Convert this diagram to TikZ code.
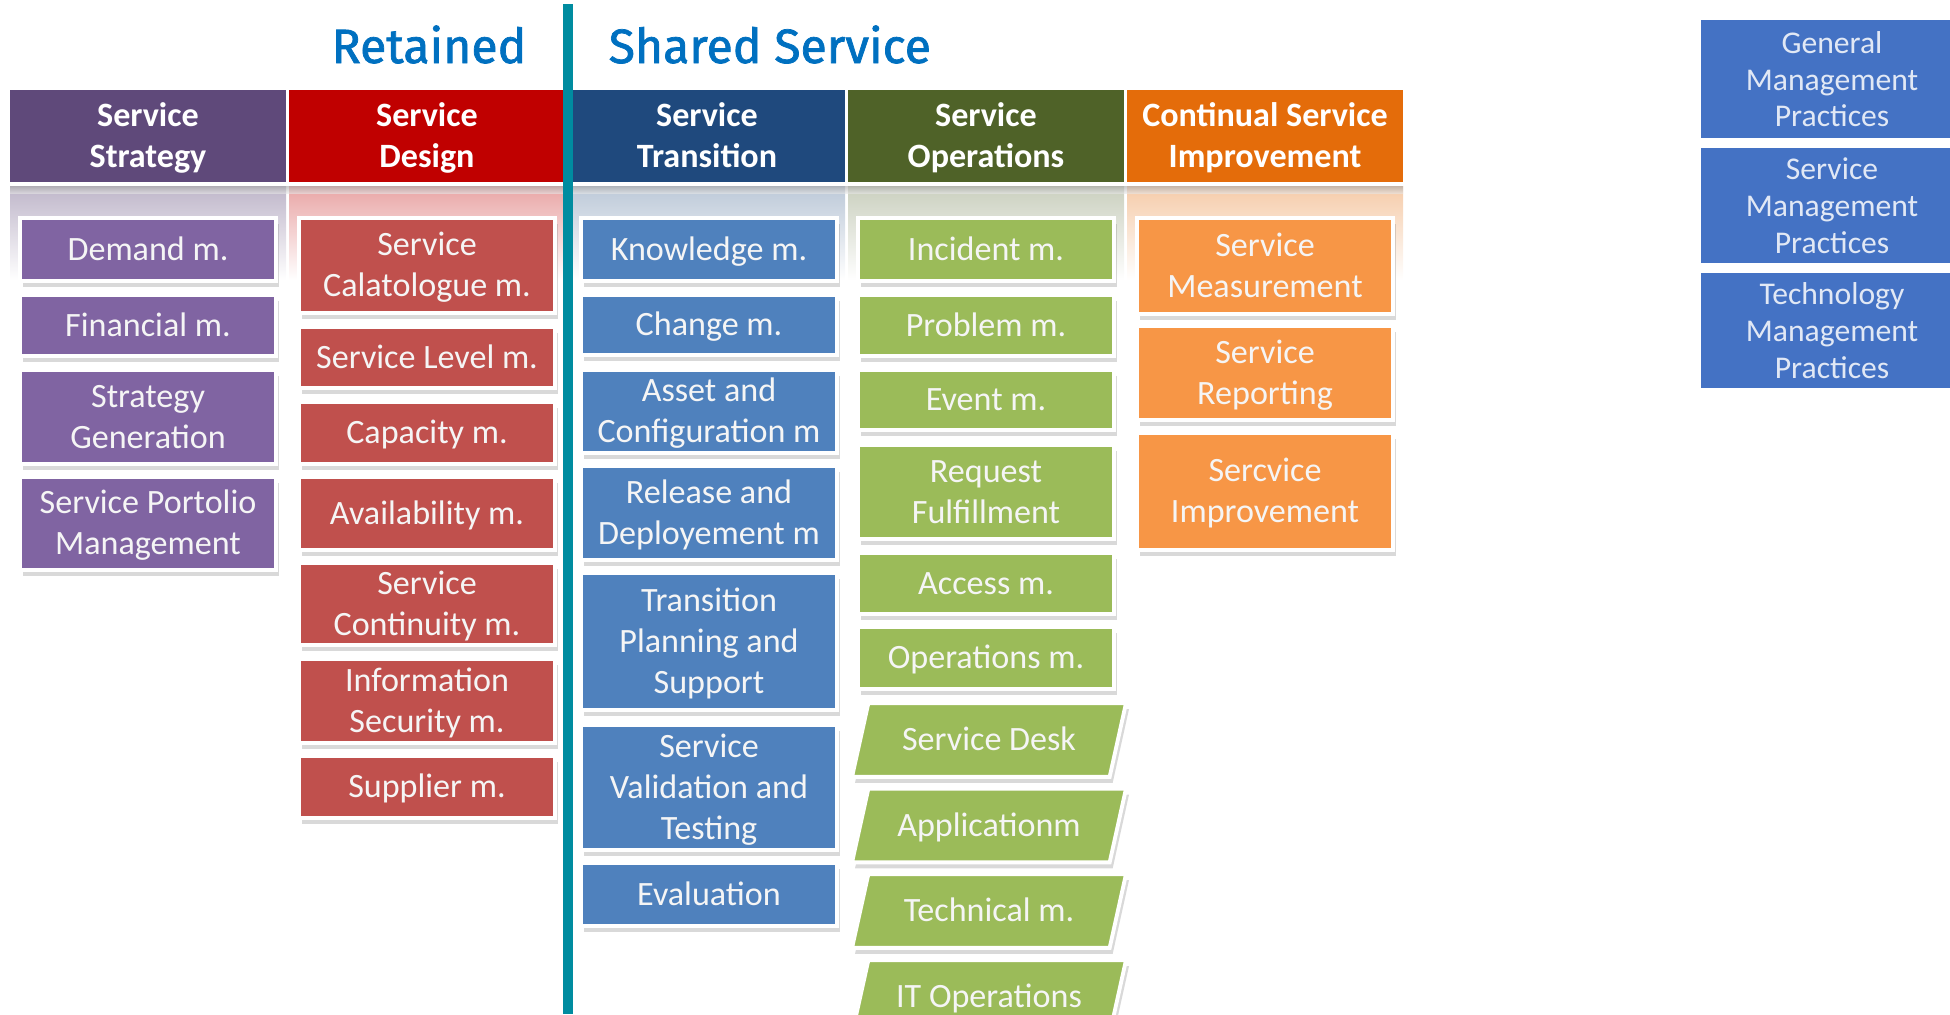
\documentclass[tikz,border=0pt]{standalone}
\usepackage{fontspec}
\setmainfont{Carlito}
\newfontfamily\titlefont{Fira Sans}[FakeBold=1.5]
\usetikzlibrary{shapes.geometric,shadows}

\definecolor{stratdark}{RGB}{95,73,122}
\definecolor{stratbox}{RGB}{128,100,162}
\definecolor{desdark}{RGB}{192,0,0}
\definecolor{desbox}{RGB}{192,80,77}
\definecolor{trandark}{RGB}{31,73,125}
\definecolor{tranbox}{RGB}{79,129,189}
\definecolor{opsdark}{RGB}{79,98,40}
\definecolor{opsbox}{RGB}{155,187,89}
\definecolor{csidark}{RGB}{228,108,10}
\definecolor{csibox}{RGB}{247,150,70}
\definecolor{practiceblue}{RGB}{68,114,196}
\definecolor{titleblue}{RGB}{0,112,192}
\definecolor{divider}{RGB}{0,140,160}

% same height and depth for every one-line box text
\newcommand{\boxstrut}{\rule[-2.7pt]{0pt}{11.6pt}}

\begin{document}
\begin{tikzpicture}[x=0.1mm, y=-0.1mm,
    hdr/.style={rectangle, minimum width=27.6mm, minimum height=9.2mm, inner sep=0pt,
        text=white, align=center, font=\bfseries\fontsize{9.7}{11.7}\selectfont,
        text height=20.6pt, text depth=2.7pt},
    item/.style={rectangle, draw=white, line width=1.1pt, minimum width=25.6mm, inner sep=0pt,
        text=white!96!black, align=center, font=\fontsize{9.7}{11.7}\selectfont,
        execute at begin node=\boxstrut, execute at end node=\boxstrut,
        drop shadow={shadow xshift=0.3mm, shadow yshift=-0.6mm, opacity=0.3}},
    twoline/.style={text height=20.6pt, text depth=2.7pt},
    threeline/.style={text height=32.3pt, text depth=2.7pt},
    para/.style={item, trapezium, trapezium left angle=77.5, trapezium right angle=102.5,
        trapezium stretches body, inner ysep=1.65mm, minimum width=27.4mm},
    pbox/.style={rectangle, fill=practiceblue, minimum width=26.2mm, inner sep=0pt,
        text={rgb,255:red,225;green,232;blue,245}, align=center, font=\fontsize{9}{10.5}\selectfont,
        text height=29.8pt, text depth=2.5pt},
    title/.style={anchor=base west, inner sep=0pt, text=titleblue, font=\titlefont\fontsize{13.7}{16}\selectfont}]

    \useasboundingbox (0,0) rectangle (1950,1014);
    \clip (0,0) rectangle (1950,1014);

    % tinted strip under each header
    \shade [top color=stratdark!40!white, bottom color=white] (10,186) rectangle (286,280);
    \shade [top color=desdark!35!white, bottom color=white] (289,186) rectangle (565,280);
    \shade [top color=trandark!30!white, bottom color=white] (569,186) rectangle (845,280);
    \shade [top color=opsdark!30!white, bottom color=white] (848,186) rectangle (1124,280);
    \shade [top color=csidark!35!white, bottom color=white] (1127,186) rectangle (1403,280);
    \shade [top color=black!35, bottom color=black!10, opacity=0.6] (10,186) rectangle (1403,193);

    % titles
    \node [title] (retained) at (331,63) {Retained};
    \node [title] (shared) at (608,63) {Shared Service};

    % headers
    \node [hdr, fill=stratdark] (strategy) at (148,136) {Service\\Strategy};
    \node [hdr, fill=desdark] (design) at (427,136) {Service\\Design};
    \node [hdr, fill=trandark] (transition) at (707,136) {Service\\Transition};
    \node [hdr, fill=opsdark] (operations) at (986,136) {Service\\Operations};
    \node [hdr, fill=csidark] (csi) at (1265,136) {Continual Service\\Improvement};

    % Service Strategy
    \node [item, fill=stratbox, minimum height=6.3mm] (demand) at (148,249.5) {Demand m.};
    \node [item, fill=stratbox, minimum height=6.1mm] (financial) at (148,325.5) {Financial m.};
    \node [item, twoline, fill=stratbox, minimum height=9.4mm] (stratgen) at (148,417) {Strategy\\Generation};
    \node [item, twoline, fill=stratbox, minimum height=9.3mm] (portfolio) at (148,523.5) {Service Portolio\\Management};

    % Service Design
    \node [item, twoline, fill=desbox, minimum height=9.5mm] (catalogue) at (427,265.5) {Service\\Calatologue m.};
    \node [item, fill=desbox, minimum height=6.1mm] (level) at (427,357.5) {Service Level m.};
    \node [item, fill=desbox, minimum height=6.2mm] (capacity) at (427,433) {Capacity m.};
    \node [item, fill=desbox, minimum height=7.3mm] (availability) at (427,513.5) {Availability m.};
    \node [item, twoline, fill=desbox, minimum height=8.2mm] (continuity) at (427,604) {Service\\Continuity m.};
    \node [item, twoline, fill=desbox, minimum height=8.4mm] (security) at (427,701) {Information\\Security m.};
    \node [item, fill=desbox, minimum height=6.2mm] (supplier) at (427,787) {Supplier m.};

    % Service Transition
    \node [item, fill=tranbox, minimum height=6.3mm] (knowledge) at (709,249.5) {Knowledge m.};
    \node [item, fill=tranbox, minimum height=6.0mm] (change) at (709,325) {Change m.};
    \node [item, twoline, fill=tranbox, minimum height=8.3mm] (asset) at (709,411.5) {Asset and\\Configuration m};
    \node [item, twoline, fill=tranbox, minimum height=9.4mm] (release) at (709,513) {Release and\\Deployement m};
    \node [item, threeline, fill=tranbox, minimum height=13.7mm] (planning) at (709,641.5) {Transition\\Planning and\\Support};
    \node [item, threeline, fill=tranbox, minimum height=12.5mm] (validation) at (709,787.5) {Service\\Validation and\\Testing};
    \node [item, fill=tranbox, minimum height=6.3mm] (evaluation) at (709,894.5) {Evaluation};

    % Service Operations
    \node [item, fill=opsbox, minimum height=6.3mm] (incident) at (986,249.5) {Incident m.};
    \node [item, fill=opsbox, minimum height=6.1mm] (problem) at (986,325.5) {Problem m.};
    \node [item, fill=opsbox, minimum height=6.0mm] (event) at (986,400) {Event m.};
    \node [item, twoline, fill=opsbox, minimum height=9.4mm] (request) at (986,492) {Request\\Fulfillment};
    \node [item, fill=opsbox, minimum height=6.1mm] (access) at (986,583.5) {Access m.};
    \node [item, fill=opsbox, minimum height=6.2mm] (opsm) at (986,658) {Operations m.};
    % functions
    \node [para, fill=opsbox] (desk) at (989,740) {Service Desk};
    \node [para, fill=opsbox] (application) at (989,825.5) {Applicationm};
    \node [para, fill=opsbox] (technical) at (989,911) {Technical m.};
    \node [para, fill=opsbox] (itops) at (989,997) {IT Operations};

    % Continual Service Improvement
    \node [item, twoline, fill=csibox, minimum height=9.6mm] (measurement) at (1265,266) {Service\\Measurement};
    \node [item, twoline, fill=csibox, minimum height=9.4mm] (reporting) at (1265,373) {Service\\Reporting};
    \node [item, twoline, fill=csibox, minimum height=11.7mm] (improvement) at (1265,491.5) {Sercvice\\Improvement};

    % practices
    \node [pbox, minimum height=11.8mm] (general) at (1832,79) {General\\Management\\Practices};
    \node [pbox, minimum height=11.5mm] (servicemgmt) at (1832,205.5) {Service\\Management\\Practices};
    \node [pbox, minimum height=11.5mm] (technology) at (1832,330.5) {Technology\\Management\\Practices};

    % retained / shared divider
    \draw [divider, line width=2.85pt] (568,4) -- (568,1014);

\end{tikzpicture}
\end{document}
